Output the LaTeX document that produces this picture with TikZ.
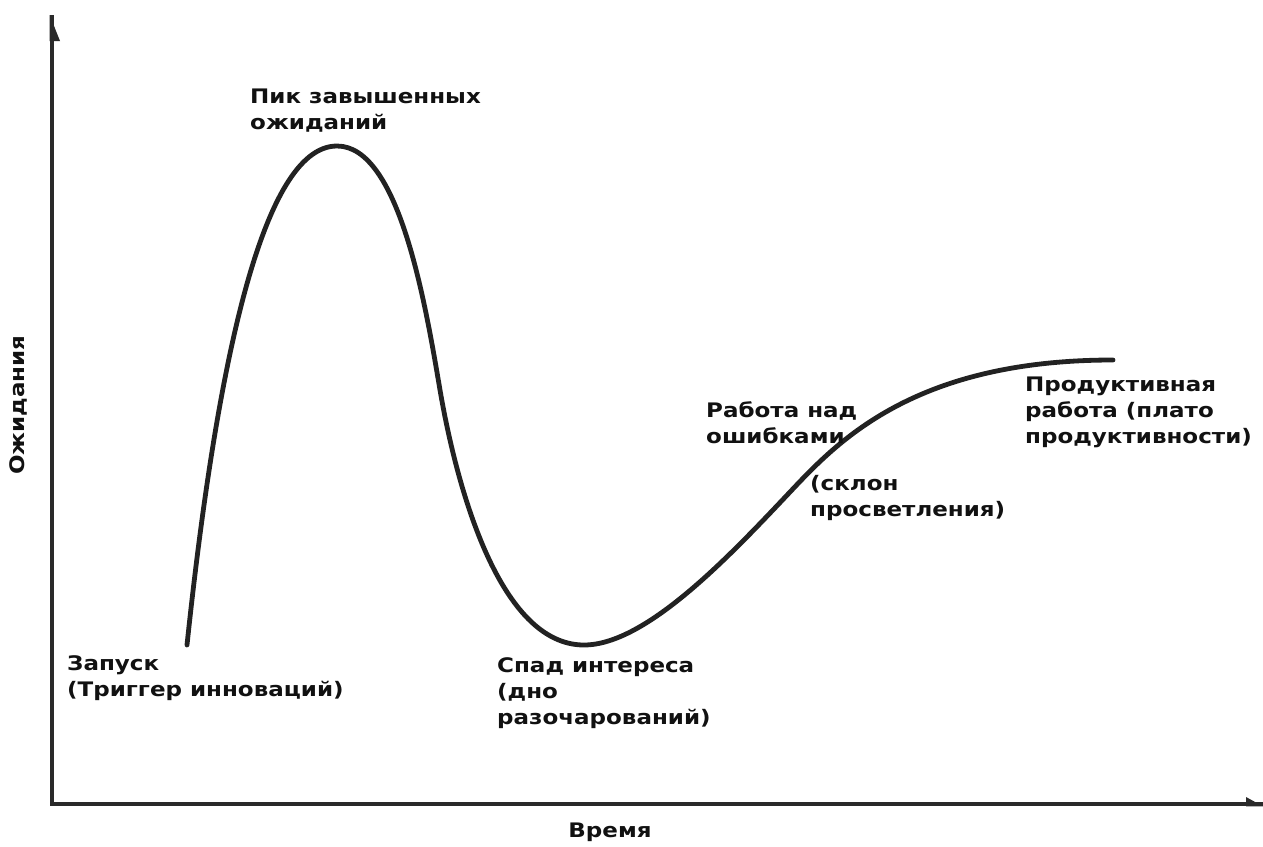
\documentclass[tikz,border=0pt]{standalone}
\usepackage{fontspec}
\setmainfont{DejaVu Sans}[FakeStretch=1.15]
\begin{document}
\begin{tikzpicture}[x=1pt,y=-1pt,
  lbl/.style={anchor=base west,align=left,inner sep=0pt,text=txt,font=\bfseries\fontsize{20}{26}\selectfont},
  axlbl/.style={text=txt,font=\bfseries\fontsize{20}{24}\selectfont,inner sep=0pt},
  axis/.style={line width=4.6pt,draw=ax},
  curve/.style={line width=4.8pt,draw=crv,line cap=round}]
\definecolor{txt}{HTML}{111111}
\definecolor{ax}{HTML}{2A2A2A}
\definecolor{crv}{HTML}{222222}
\useasboundingbox (0,0) rectangle (1263,846);
\fill[white] (0,0) rectangle (1263,846);
% axes
\coordinate (o) at (52,804);
\coordinate (ytop) at (52,15);
\coordinate (xend) at (1263,804);
\draw[axis] (ytop) -- (o) -- (xend);
\fill[ax] (49.7,15) -- (60,41) -- (49.7,41) -- cycle;
\fill[ax] (1246,797) -- (1263,806.3) -- (1246,806.3) -- cycle;
% curve
\draw[curve] (187,645) .. controls (215,380) and (260,146) .. (337,146)
  .. controls (398.6,146) and (425,301) .. (440,390)
  .. controls (457,489) and (500,645) .. (584,645)
  .. controls (646,645) and (730,555.6) .. (790,492)
  .. controls (838,441) and (914.5,360) .. (1113,360);
% labels
\node[lbl] (peak) at (250,129) {Пик завышенных\\ожиданий};
\node[lbl] (trig) at (67,696) {Запуск\\(Триггер инноваций)};
\node[lbl] (trough) at (497,724) {Спад интереса\\(дно\\разочарований)};
\node[lbl] (work) at (706,443) {Работа над\\ошибками};
\node[lbl] (slope) at (810,516) {(склон\\просветления)};
\node[lbl] (plat) at (1025,443) {Продуктивная\\работа (плато\\продуктивности)};
\node[axlbl,rotate=90] (ylab) at (18,405) {Ожидания};
\node[axlbl] (xlab) at (610,832) {Время};
\end{tikzpicture}
\end{document}
